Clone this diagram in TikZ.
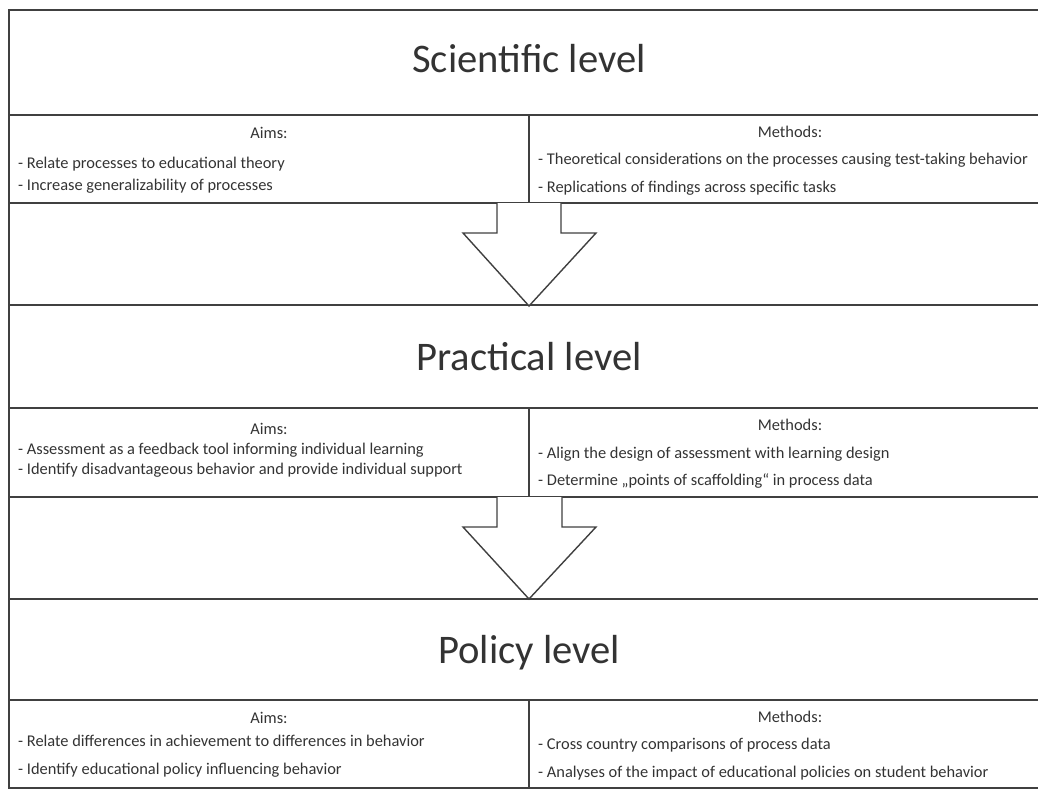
\documentclass[tikz,border=0pt]{standalone}
\usepackage{fontspec}
\setmainfont{Carlito}
\definecolor{linegray}{HTML}{404040}
\definecolor{textgray}{HTML}{333333}
\begin{document}
\begin{tikzpicture}[x=1pt,y=-1pt,
  cell/.style={draw=linegray, line width=1.4pt, anchor=north west, inner sep=0pt, outer sep=0pt},
  small/.style={font=\fontsize{16.4}{19}\selectfont, text=textgray, inner sep=0pt},
  bul/.style={small, anchor=base west},
  head/.style={small, anchor=base},
  ttl/.style={font=\fontsize{40.6}{48}\selectfont, text=textgray, inner sep=0pt, anchor=base},
  blockarrow/.style={draw=linegray, line width=1.4pt, fill=white, line join=miter}
]
\useasboundingbox (0,0) rectangle (1038,789);
\begin{scope}
\clip (0,0) rectangle (1038,789);
% bands
\node[cell, minimum width=1041pt, minimum height=105pt] (t1) at (9,10) {};
\node[cell, minimum width=520pt, minimum height=88pt] (a1) at (9,115) {};
\node[cell, minimum width=521pt, minimum height=88pt] (m1) at (529,115) {};
\node[cell, minimum width=1041pt, minimum height=102pt] (g1) at (9,203) {};
\node[cell, minimum width=1041pt, minimum height=103pt] (t2) at (9,305) {};
\node[cell, minimum width=520pt, minimum height=89pt] (a2) at (9,408) {};
\node[cell, minimum width=521pt, minimum height=89pt] (m2) at (529,408) {};
\node[cell, minimum width=1041pt, minimum height=102pt] (g2) at (9,497) {};
\node[cell, minimum width=1041pt, minimum height=101pt] (t3) at (9,599) {};
\node[cell, minimum width=520pt, minimum height=88pt] (a3) at (9,700) {};
\node[cell, minimum width=521pt, minimum height=88pt] (m3) at (529,700) {};
% block arrows
\draw[blockarrow] (497,203) -- (497,233) -- (463,233) -- (529,306) -- (596,233) -- (561,233) -- (561,203);
\draw[blockarrow] (497,497) -- (497,527) -- (463,527) -- (529,599) -- (596,527) -- (562,527) -- (562,497);
\end{scope}
% titles
\node[ttl] (tt1) at (529,73) {Scientific level};
\node[ttl] (tt2) at (529,370) {Practical level};
\node[ttl] (tt3) at (529,663) {Policy level};
% band 1
\node[head] (ah1) at (269,138.5) {Aims:};
\node[bul] (a1l1) at (18,168.5) {- Relate processes to educational theory};
\node[bul] (a1l2) at (18,190.5) {- Increase generalizability of processes};
\node[head] (mh1) at (790,137.5) {Methods:};
\node[bul] (m1l1) at (538,164.5) {- Theoretical considerations on the processes causing test-taking behavior};
\node[bul] (m1l2) at (538,192.5) {- Replications of findings across specific tasks};
% band 2
\node[head] (ah2) at (269,434.5) {Aims:};
\node[bul] (a2l1) at (18,454.5) {- Assessment as a feedback tool informing individual learning};
\node[bul] (a2l2) at (18,474.5) {- Identify disadvantageous behavior and provide individual support};
\node[head] (mh2) at (790,430.5) {Methods:};
\node[bul] (m2l1) at (538,458.5) {- Align the design of assessment with learning design};
\node[bul] (m2l2) at (538,485.5) {- Determine „points of scaffolding“ in process data};
% band 3
\node[head] (ah3) at (269,723.5) {Aims:};
\node[bul] (a3l1) at (18,746.5) {- Relate differences in achievement to differences in behavior};
\node[bul] (a3l2) at (18,774.5) {- Identify educational policy influencing behavior};
\node[head] (mh3) at (790,722.5) {Methods:};
\node[bul] (m3l1) at (538,749.5) {- Cross country comparisons of process data};
\node[bul] (m3l2) at (538,777.5) {- Analyses of the impact of educational policies on student behavior};
\end{tikzpicture}
\end{document}
